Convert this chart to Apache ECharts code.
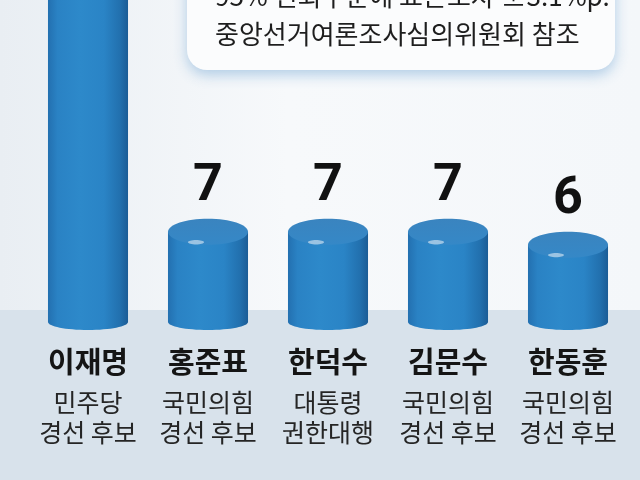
<!DOCTYPE html>
<html><head><meta charset="utf-8">
<script src="https://cdn.jsdelivr.net/npm/echarts/dist/echarts.min.js"></script>
<style>html,body{margin:0;padding:0;background:#fff}#c{width:640px;height:480px}</style>
</head><body><div id="c"></div>
<script>
const names = ['이재명','홍준표','한덕수','김문수','한동훈'];
const parties = ['민주당','국민의힘','대통령','국민의힘','국민의힘'];
const roles = ['경선 후보','경선 후보','권한대행','경선 후보','경선 후보'];
const values = [38, 7, 7, 7, 6];
const noteLines = ['95% 신뢰수준에 표본오차 ±3.1%p.', '중앙선거여론조사심의위원회 참조'];
const Y_MAX = 25;

const chart = echarts.init(document.getElementById('c'), null, {renderer:'canvas'});
const FONT = '"Noto Sans CJK KR", "Noto Sans", sans-serif';

const bodyGrad = {type:'linear', x:0, y:0, x2:1, y2:0, colorStops:[
  {offset:0, color:'#2370b0'}, {offset:0.12, color:'#2a82c4'}, {offset:0.4, color:'#2d89ca'},
  {offset:0.7, color:'#2a84c6'}, {offset:0.9, color:'#2270ae'}, {offset:1, color:'#1b5c96'}]};
const topGrad = {type:'linear', x:0, y:0, x2:0, y2:1, colorStops:[
  {offset:0, color:'#3a84bf'}, {offset:1, color:'#3588c7'}]};

chart.setOption({
  animation: false,
  graphic: [
    {type:'rect', z:-10, shape:{x:0, y:0, width:640, height:480},
     style:{fill:{type:'linear', x:0, y:0, x2:1, y2:0, colorStops:[
       {offset:0, color:'#e9eef3'}, {offset:0.45, color:'#f7f9fb'}, {offset:1, color:'#f4f7fa'}]}}},
    {type:'rect', z:-9, shape:{x:0, y:310, width:640, height:170}, style:{fill:'#d8e2eb'}},
    {type:'rect', z:-5, shape:{x:187, y:-50, width:428, height:120, r:20},
     style:{fill:'#fbfcfd', shadowBlur:14, shadowColor:'rgba(90,150,205,0.45)', shadowOffsetY:5}},
    {type:'text', z:-4, style:{text:noteLines[0], x:215, y:-4, verticalAlign:'middle', align:'left',
      font:'26px ' + FONT, fill:'#1e1e1e'}},
    {type:'text', z:-4, style:{text:noteLines[1], x:215, y:34, verticalAlign:'middle', align:'left',
      font:'26px ' + FONT, fill:'#1e1e1e'}}
  ],
  grid: {left:28, right:12, top:0, bottom:158},
  xAxis: {
    type:'category', data: names,
    axisLine:{show:false}, axisTick:{show:false},
    axisLabel:{
      margin:15, interval:0,
      formatter: (v, i) => '{n|' + v + '}\n{s|' + parties[i] + '}\n{s|' + roles[i] + '}',
      rich:{
        n:{fontSize:29, fontWeight:'bold', fontFamily:FONT, color:'#151515', lineHeight:50},
        s:{fontSize:25, fontFamily:FONT, color:'#252525', lineHeight:30}
      }
    }
  },
  yAxis: {type:'value', min:0, max:Y_MAX, show:false, splitLine:{show:false}},
  series: [{
    type:'custom',
    data: values.map((v, i) => [i, v]),
    encode:{x:0, y:1},
    renderItem: function(params, api){
      const idx = api.value(0), v = api.value(1);
      const top = api.coord([idx, v]);
      const base = api.coord([idx, 0]);
      const w = api.size([1, 0])[0] * 0.667;
      const cx = top[0], x0 = cx - w/2;
      const ryT = 13, ryB = 8;
      const children = [
        {type:'ellipse', shape:{cx:cx, cy:base[1], rx:w/2, ry:ryB}, style:{fill:bodyGrad}},
        {type:'rect', shape:{x:x0, y:top[1], width:w, height:base[1]-top[1]}, style:{fill:bodyGrad}},
        {type:'ellipse', shape:{cx:cx, cy:top[1], rx:w/2, ry:ryT}, style:{fill:topGrad}},
        {type:'ellipse', shape:{cx:cx - w*0.15, cy:top[1] + ryT*0.8, rx:8, ry:2.2},
         style:{fill:'rgba(255,255,255,0.5)'}}
      ];
      if (v <= Y_MAX) {
        children.push({type:'text', style:{text:String(v), x:cx, y:top[1]-ryT-32,
          align:'center', verticalAlign:'middle', font:'bold 52px Roboto, "Noto Sans", sans-serif', fill:'#111'}});
      }
      return {type:'group', children: children};
    }
  }]
});
</script></body></html>
